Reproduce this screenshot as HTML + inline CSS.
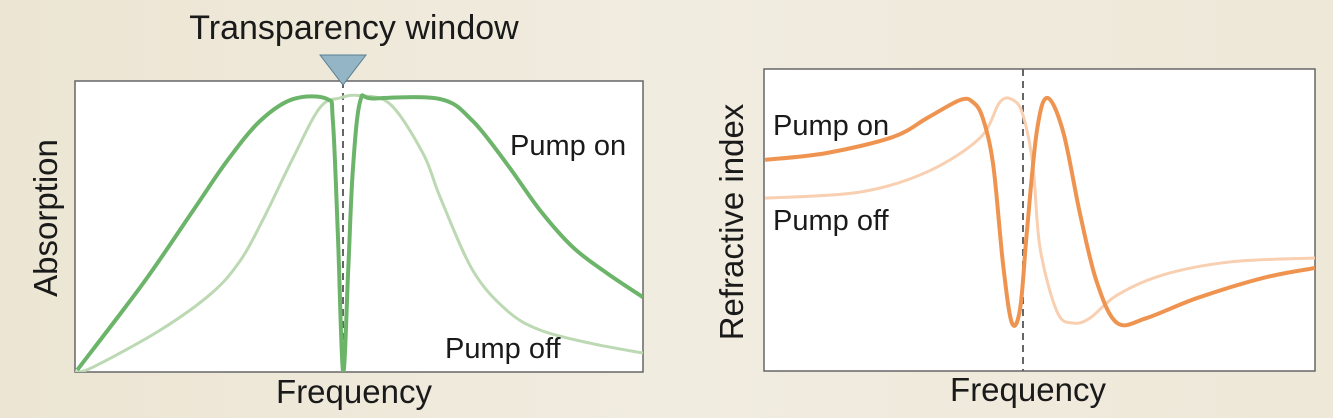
<!DOCTYPE html>
<html><head><meta charset="utf-8"><style>
body{margin:0;width:1333px;height:413px;overflow:hidden;background:linear-gradient(90deg,#ece5d3,#f1ece0 50%,#eee8d8);font-family:"Liberation Sans",sans-serif}
svg text{font-family:"Liberation Sans",sans-serif;fill:#1a1a1a}
</style></head><body>
<svg id="s" width="1333" height="413">
<defs>
<clipPath id="c1"><rect x="75" y="81" width="568" height="291"/></clipPath>
<clipPath id="c2"><rect x="764" y="69" width="551" height="302"/></clipPath>
</defs>
<rect x="75" y="81" width="568" height="291" fill="#fff" stroke="#666" stroke-width="1.5"/>
<rect x="764" y="69" width="551" height="302" fill="#fff" stroke="#666" stroke-width="1.5"/>
<line x1="343" y1="81" x2="343" y2="372" stroke="#666" stroke-width="2" stroke-dasharray="7,5"/>
<line x1="1023" y1="69" x2="1023" y2="371" stroke="#666" stroke-width="2" stroke-dasharray="7,5"/>
<g id="g1" clip-path="url(#c1)"></g><g id="g2" clip-path="url(#c2)"></g>
<polygon points="320,55 366,55 343,85" fill="#93b5c6" stroke="#5a7f92" stroke-width="1"/>
<text x="354" y="39" font-size="34" text-anchor="middle">Transparency window</text>
<text transform="translate(57,218) rotate(-90)" font-size="33" text-anchor="middle">Absorption</text>
<text x="354" y="403" font-size="33" text-anchor="middle">Frequency</text>
<text x="510" y="155" font-size="29">Pump on</text>
<text x="445" y="358" font-size="29">Pump off</text>
<text transform="translate(743,222) rotate(-90)" font-size="33" text-anchor="middle">Refractive index</text>
<text x="1028" y="401" font-size="33" text-anchor="middle">Frequency</text>
<text x="773" y="135" font-size="29">Pump on</text>
<text x="773" y="230" font-size="29">Pump off</text>
</svg>
<script>
const absOnX=[0.4,12,20.8,26.8,32.6,38.4,44.4,45.4,46.3,47.2,48.1,48.9,50.2,52.5,64.3,70,76,81.9,87.7,93.7,100];
const absOnY=[0.7,30.5,55.5,72.6,86.3,93.8,93.8,86.3,46.2,0,35,69,93,94,93.8,86.3,71.6,55.5,42.8,33.9,25.7];
const absOffX=[0,3.2,15,24,29,33,38.4,43.1,46.7,50,55.5,61.3,64.3,70,76,81.9,90.7,100];
const absOffY=[0,1.7,14.4,27,38,52,73.6,90.8,94.2,95,92,75,60,35,21.2,14.4,9.9,6.5];
const refOnX=[0.2,11.4,23.4,29.6,35.6,37.9,39.7,41.6,43.4,45,46.5,47.7,49.5,51.4,54.3,57.4,60.4,64.1,69.5,78.6,90.6,100];
const refOnY=[69.8,72.1,77.4,83.7,89.7,89,83.7,68.1,34.9,15.6,20.6,45.8,79.1,90.4,79.1,51.5,29.2,15.6,17.3,23.9,30.6,33.9];
const refOffX=[0.2,17.4,29.6,39.2,42.8,45.2,47,48.8,50.1,53.2,56.1,59.2,64.1,72.4,84.6,100];
const refOffY=[57.1,59.1,65.8,77.1,89,89.7,84.7,68.1,40.5,19.3,15.6,17.3,24.9,31.6,35.9,37.2];
function ax(x0,w,y0,h){return {x:v=>x0+v/100*w,y:v=>y0+h-v/100*h};}
const A=ax(75,568,81,291),R=ax(764,551,69,301);
function path(xs,ys,a){const p=xs.map((x,i)=>[a.x(x),a.y(ys[i])]);let d='M'+p[0];
for(let i=0;i<p.length-1;i++){const p0=p[i-1]||p[i],p1=p[i],p2=p[i+1],p3=p[i+2]||p2;
const k=6;
const c1=[p1[0]+(p2[0]-p0[0])/k,p1[1]+(p2[1]-p0[1])/k],c2=[p2[0]-(p3[0]-p1[0])/k,p2[1]-(p3[1]-p1[1])/k];
d+=' C'+c1+' '+c2+' '+p2;}return d;}
function draw(g,xs,ys,a,col,w,name){const e=document.createElementNS('http://www.w3.org/2000/svg','path');
e.setAttribute('d',path(xs,ys,a));e.setAttribute('fill','none');e.setAttribute('stroke',col);e.setAttribute('stroke-width',w);e.setAttribute('stroke-linejoin','round');


document.getElementById(g).appendChild(e);}
draw('g1',absOffX,absOffY,A,'#bcd9b3',3,'absorption-pump-off-line');
draw('g1',absOnX,absOnY,A,'#6cb46a',4,'absorption-pump-on-line');
draw('g2',refOffX,refOffY,R,'#f8cfb0',3,'refractive-pump-off-line');
draw('g2',refOnX,refOnY,R,'#ef9450',4,'refractive-pump-on-line');
</script>
</body></html>
